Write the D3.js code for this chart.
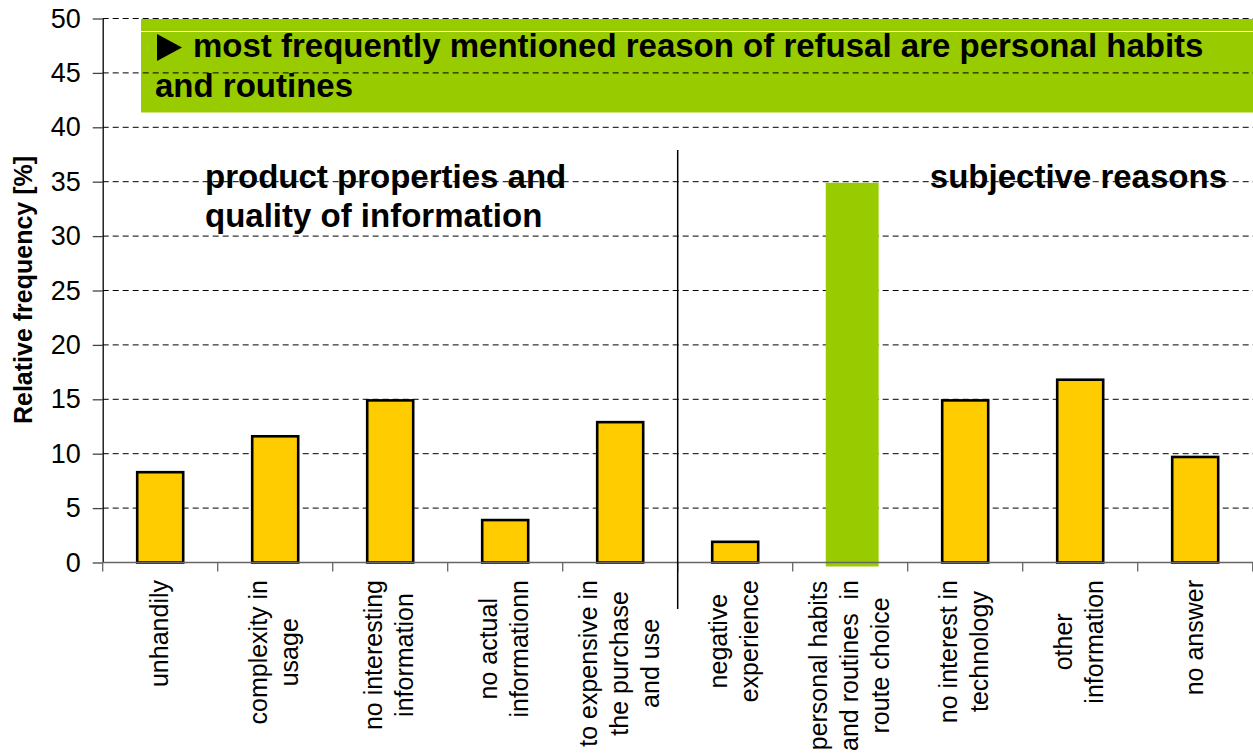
<!DOCTYPE html>
<html>
<head>
<meta charset="utf-8">
<script src="https://cdn.jsdelivr.net/npm/d3@7"></script>
<style>
  html, body { margin: 0; padding: 0; background: #fff; }
  svg { display: block; font-family: "Liberation Sans", Arial, sans-serif; }
  .pre { white-space: pre; }
</style>
</head>
<body>
<svg id="chart" width="1253" height="755"></svg>
<script>
// Reasons for refusal and their relative frequency in percent
const categories = [
  "unhandily",
  "complexity in\nusage",
  "no interesting\ninformation",
  "no actual\ninformationn",
  "to expensive in\nthe purchase\nand use",
  "negative\nexperience",
  "personal habits\nand routines  in\nroute choice",
  "no interest in\ntechnology",
  "other\ninformation",
  "no answer"
];
const values = [8.3, 11.6, 14.9, 3.9, 12.9, 1.9, 34.9, 14.9, 16.8, 9.7];
const highlighted = ["personal habits\nand routines  in\nroute choice"];
const yTicks = [0, 5, 10, 15, 20, 25, 30, 35, 40, 45, 50];
const yTitle = "Relative frequency [%]";
const headline = ["most frequently mentioned reason of refusal are personal habits", "and routines"];
const groupLeft = ["product properties and", "quality of information"];
const groupRight = ["subjective reasons"];

const svg = d3.select("#chart");
const plot = { left: 102.7, right: 1252.7, top: 18.5, bottom: 562.5 };

const x = d3.scaleBand().domain(categories).range([plot.left, plot.right]).paddingInner(0).paddingOuter(0);
const y = d3.scaleLinear().domain([0, 50]).range([plot.bottom, plot.top]);
const bw = x.bandwidth();

// headline banner
const banner = svg.append("g");
banner.append("rect")
  .attr("x", 141).attr("y", y(50) + 0.5)
  .attr("width", 1253 - 141).attr("height", 112.5 - y(50) - 0.5)
  .attr("fill", "#99CC00");
banner.append("line")
  .attr("x1", 141).attr("x2", 1253).attr("y1", 31.5).attr("y2", 31.5)
  .attr("stroke", "#fff").attr("stroke-width", 1);
banner.append("path")
  .attr("d", "M157,34 L182,47.5 L157,61 Z")
  .attr("fill", "#000");
banner.append("text")
  .attr("x", 193).attr("y", 56.5)
  .attr("font-size", 33).attr("font-weight", "bold")
  .text(headline[0]);
banner.append("text")
  .attr("x", 155).attr("y", 97)
  .attr("font-size", 33).attr("font-weight", "bold")
  .text(headline[1]);

// horizontal dashed gridlines
svg.append("g")
  .selectAll("line")
  .data(yTicks.filter(t => t > 0))
  .join("line")
  .attr("x1", plot.left).attr("x2", 1253)
  .attr("y1", d => y(d)).attr("y2", d => y(d))
  .attr("stroke", "#000").attr("stroke-width", 1)
  .attr("stroke-dasharray", "6,4");

// group captions
svg.append("text")
  .attr("font-size", 33).attr("font-weight", "bold")
  .selectAll("tspan").data(groupLeft).join("tspan")
  .attr("x", 205).attr("y", (d, i) => 188 + i * 39)
  .text(d => d);
svg.append("text")
  .attr("font-size", 33).attr("font-weight", "bold")
  .attr("text-anchor", "end")
  .selectAll("tspan").data(groupRight).join("tspan")
  .attr("x", 1227).attr("y", 188)
  .text(d => d);

// bars
const bars = svg.append("g");
categories.forEach((c, i) => {
  const hi = highlighted.includes(c);
  const w = hi ? bw * 0.46 : bw * 0.4;
  const cx = x(c) + bw / 2 + (hi ? 2 : 0);
  bars.append("rect")
    .attr("x", cx - w / 2)
    .attr("y", y(values[i]))
    .attr("width", w)
    .attr("height", y(0) - y(values[i]) + (hi ? 4 : 0))
    .attr("fill", hi ? "#99CC00" : "#FFCC00")
    .attr("stroke", hi ? "none" : "#000")
    .attr("stroke-width", 2.6);
});

// y axis
const yAxis = svg.append("g")
  .attr("transform", `translate(${plot.left},0)`)
  .call(d3.axisLeft(y).tickValues(yTicks).tickSize(10).tickSizeOuter(0).tickPadding(12));
yAxis.select(".domain").attr("stroke", "#000").attr("stroke-width", 1.3);
yAxis.selectAll(".tick line").attr("stroke", "#444").attr("stroke-width", 1.3);
yAxis.selectAll(".tick text")
  .attr("font-size", 27).attr("font-family", "Liberation Sans, Arial, sans-serif")
  .attr("fill", "#000");

// x axis line and category boundary ticks
const xAxis = svg.append("g");
xAxis.append("line")
  .attr("x1", plot.left).attr("x2", 1253)
  .attr("y1", y(0)).attr("y2", y(0))
  .attr("stroke", "#666").attr("stroke-width", 1.6);
const bounds = categories.map(c => x(c)).concat([x.range()[1]]);
xAxis.selectAll("line.tk").data(bounds).join("line")
  .attr("class", "tk")
  .attr("x1", d => d).attr("x2", d => d)
  .attr("y1", y(0)).attr("y2", y(0) + 9)
  .attr("stroke", "#666").attr("stroke-width", 1.3);

// rotated category labels
const labelTop = 580, lineGap = 31, fs = 25;
categories.forEach(c => {
  const lines = c.split("\n");
  const g = svg.append("g");
  const t = g.append("text")
    .attr("font-size", fs)
    .attr("class", "pre")
    .attr("text-anchor", "middle");
  lines.forEach((ln, i) => {
    t.append("tspan").attr("x", 0).attr("y", (i - (lines.length - 1) / 2) * lineGap).text(ln);
  });
  const maxLen = d3.max(t.selectAll("tspan").nodes(), n => n.getComputedTextLength());
  const cx = x(c) + bw / 2 + 7.5;
  g.attr("transform", `translate(${cx},${labelTop + maxLen / 2}) rotate(-90)`);
});

// separator between the two groups of reasons
svg.append("line")
  .attr("x1", x(categories[5])).attr("x2", x(categories[5]))
  .attr("y1", 150).attr("y2", 609)
  .attr("stroke", "#000").attr("stroke-width", 1.5);

// y axis title
svg.append("text")
  .attr("transform", `translate(32,290) rotate(-90)`)
  .attr("text-anchor", "middle")
  .attr("font-size", 25).attr("font-weight", "bold")
  .text(yTitle);
</script>
</body>
</html>
